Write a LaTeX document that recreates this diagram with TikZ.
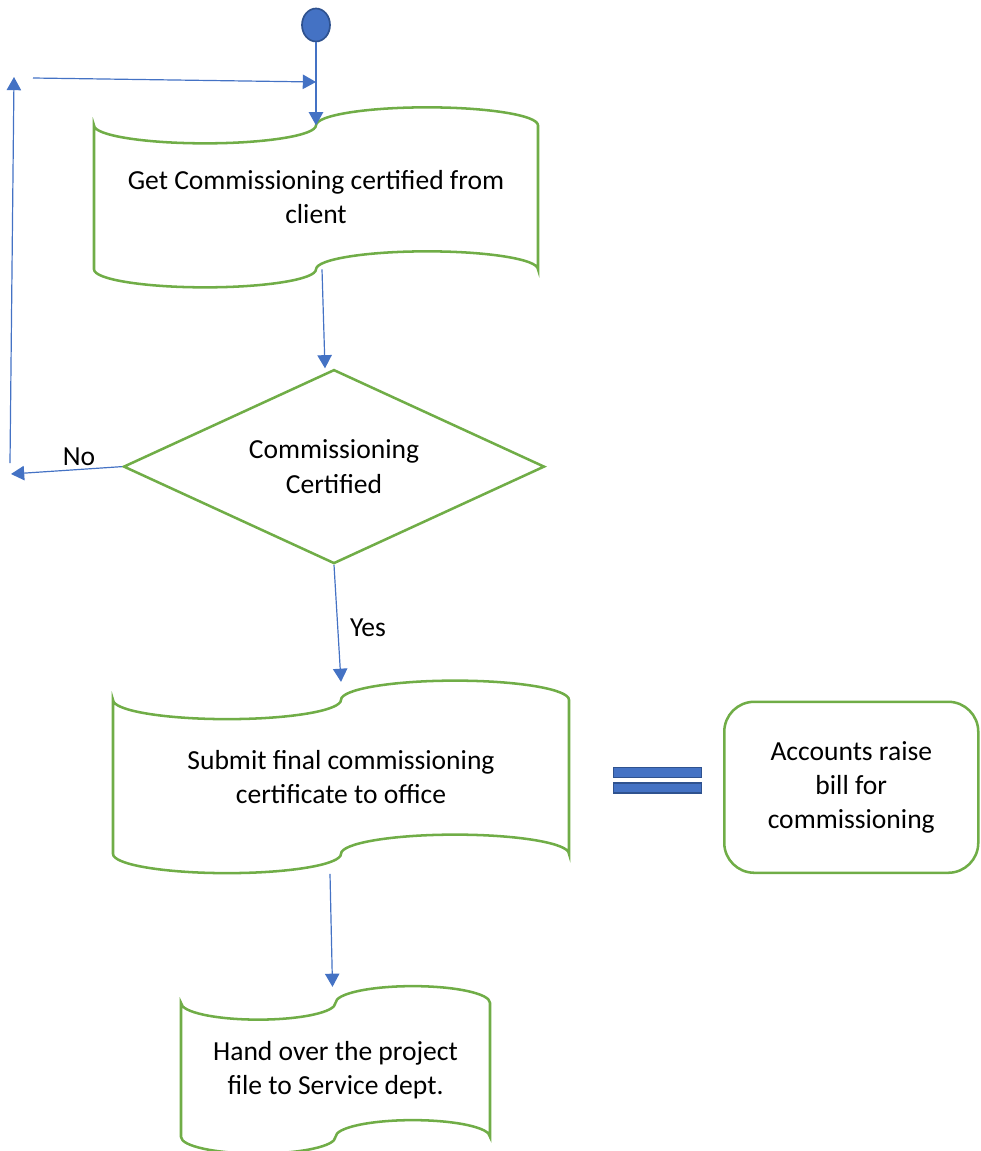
\documentclass[tikz,border=0pt]{standalone}
\usepackage{fontspec}
\setmainfont{Carlito}
\usepackage{tikz}
\usetikzlibrary{shapes.geometric,positioning,calc,arrows.meta}
\definecolor{flowblue}{HTML}{4472C4}
\definecolor{darkblue}{HTML}{2F528F}
\definecolor{boxgreen}{HTML}{70AD47}
\newcommand{\drawtape}[1]{%
  \draw[tapeline] let \p1=($(#1.north east)-(#1.north west)$), \p2=($(#1.north)-(#1.south)$) in
    (#1.north west) arc[start angle=180,end angle=360,x radius=0.25*\x1,y radius=0.125*\y2]
    arc[start angle=180,end angle=0,x radius=0.25*\x1,y radius=0.125*\y2]
    -- (#1.south east)
    arc[start angle=0,end angle=180,x radius=0.25*\x1,y radius=0.125*\y2]
    arc[start angle=0,end angle=-180,x radius=0.25*\x1,y radius=0.125*\y2]
    -- cycle;}

\begin{document}
\begin{tikzpicture}[
    font=\fontsize{19.6}{24.2}\selectfont,
    flow/.style={draw=flowblue, line width=0.85pt, -{Triangle[length=0.33cm,width=0.36cm]}},
    tapebox/.style={align=center, inner sep=0pt, outer sep=0pt},
    tapeline/.style={draw=boxgreen, line width=1.8pt},
    decision/.style={diamond, draw=boxgreen, line width=1.8pt, align=center, inner sep=0pt, aspect=2.17,
                     minimum width=10.525cm, minimum height=4.85cm},
    roundbox/.style={draw=boxgreen, line width=1.8pt, rounded corners=0.75cm, align=center,
                     minimum width=6.35cm, minimum height=4.275cm},
    startdot/.style={ellipse, draw=darkblue, fill=flowblue, line width=1.2pt,
                     minimum width=0.7cm, minimum height=0.825cm},
    eqbar/.style={draw=darkblue, fill=flowblue, line width=0.8pt, inner sep=0pt,
                  minimum width=2.2cm, minimum height=0.25cm}]
    \useasboundingbox (0,0) rectangle (24.5,-28.775);
    \node[startdot] (start) at (7.9,-0.625) {};
    \node[tapebox, minimum width=11.1cm, minimum height=3.6cm, below=2.075cm of start] (cert)
        {Get Commissioning certified from\\client};
    \node[decision, below=2.475cm of cert, xshift=0.45cm] (check) {Commissioning\\Certified};
    \node[tapebox, minimum width=11.4cm, minimum height=3.85cm, below=3.375cm of check, xshift=0.175cm] (submit)
        {Submit final commissioning\\certificate to office};
    \node[roundbox, right=3.85cm of submit, yshift=-0.26cm] (bill) {Accounts raise\\bill for\\commissioning};
    \node[eqbar, right=1.1cm of submit, yshift=0.1cm] (eqtop) {};
    \node[eqbar, below=0.1cm of eqtop] (eqbot) {};
    \node[tapebox, minimum width=7.725cm, minimum height=3.35cm, below=3.725cm of submit, xshift=-0.1375cm] (handover)
        {Hand over the project\\file to Service dept.};
    \drawtape{cert}
    \drawtape{submit}
    \drawtape{handover}
    \coordinate (noend) at (0.275,-11.85);
    \coordinate (loopbot) at (0.25,-11.575);
    \coordinate (looptop) at (0.35,-1.925);
    \coordinate (loopleft) at (0.825,-1.95);
    \coordinate (loopright) at (7.9,-2.05);
    \node (nolabel) at (1.975,-11.425) {No};
    \node (yeslabel) at (9.2,-15.7) {Yes};
    \draw[flow] (start) -- (cert.north);
    \draw[flow] ([xshift=0.15cm]cert.south) -- ([xshift=-0.225cm]check.north);
    \draw[flow] (check.west) -- (noend);
    \draw[flow] (loopbot) -- (looptop);
    \draw[flow] (loopleft) -- (loopright);
    \draw[flow] (check.south) -- ([yshift=0.45cm]submit.north);
    \draw[flow] ([xshift=-0.275cm,yshift=-0.5cm]submit.south) -- ([xshift=-0.075cm,yshift=0.4cm]handover.north);
\end{tikzpicture}
\end{document}
